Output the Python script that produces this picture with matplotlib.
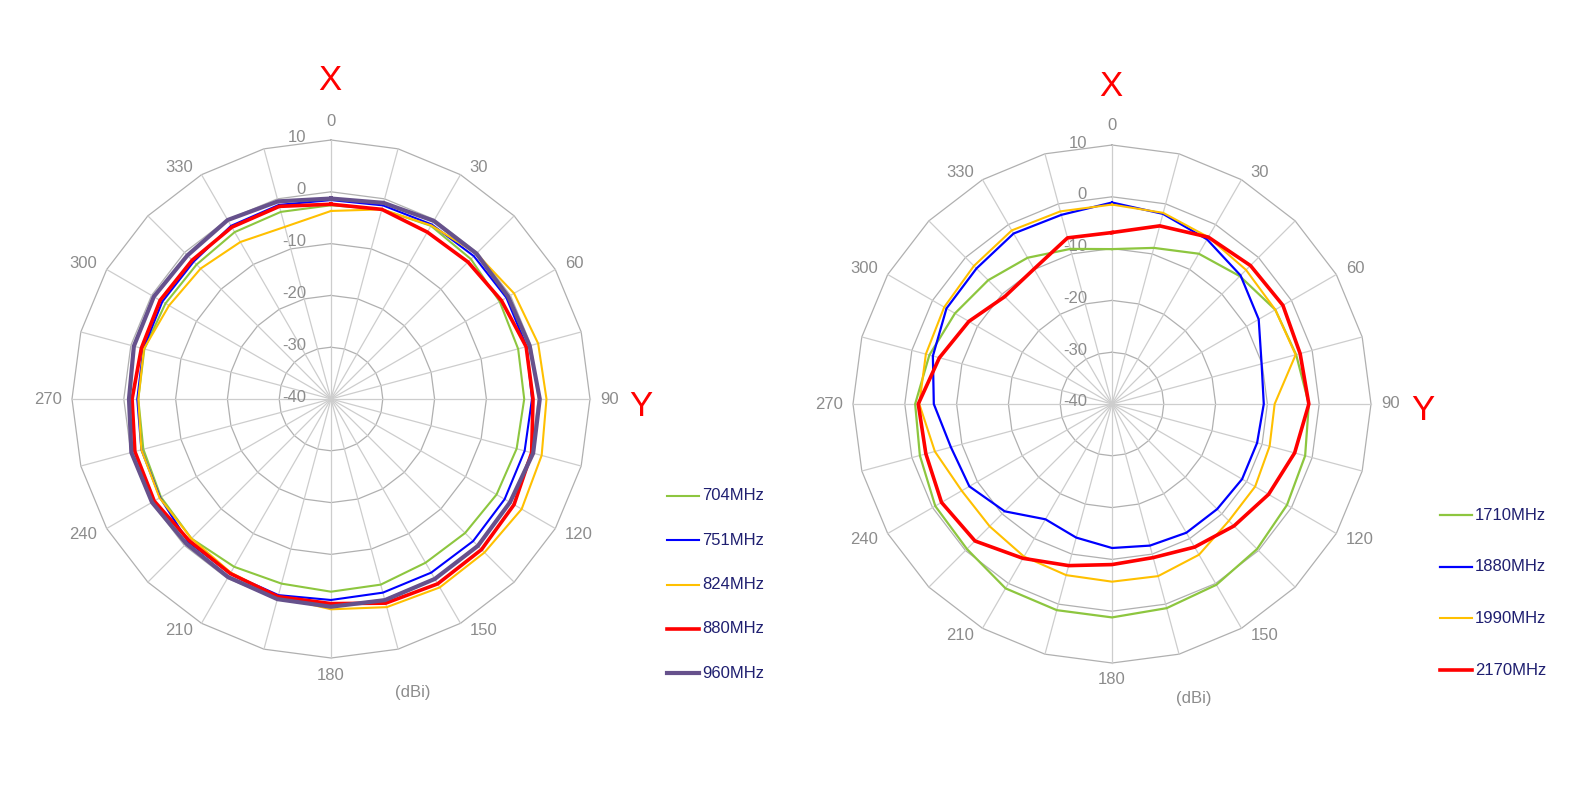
import numpy as np
import matplotlib
matplotlib.use("Agg")
import matplotlib.pyplot as plt
from matplotlib.lines import Line2D
from matplotlib.transforms import offset_copy

plt.rcParams['font.family'] = ['Liberation Sans', 'DejaVu Sans']

# angles in degrees, clockwise from X (top)
angles = np.arange(0, 360, 15)
angle_labels = np.arange(0, 360, 30)
rings = [-30, -20, -10, 0, 10]
r_min, r_max = -40, 10

# left chart: low band (dBi)
g704 = [-2.6, -2.1, -1.4, -1.8, -2.4, -2.6, -2.7, -2.9, -3.1, -3.4, -3.5, -2.9,
        -2.8, -3.1, -2.6, -1.9, -2.1, -2.5, -2.8, -2.7, -3.1, -3.3, -2.8, -2.6]
g751 = [-1.6, -1.3, -1.1, -1.0, -0.9, -0.9, -1.2, -1.3, -1.3, -1.2, -1.3, -1.3,
        -1.2, -0.8, -1.1, -1.0, -1.9, -2.1, -2.6, -2.5, -2.4, -2.5, -1.4, -1.2]
g824 = [-3.7, -2.1, -1.3, -0.3, 0.8, 1.4, 1.6, 2.1, 2.5, 1.9, 2.0, 1.6,
        0.6, -0.5, -1.3, -1.9, -1.8, -2.1, -2.8, -2.6, -3.9, -4.4, -5.0, -5.6]
g880 = [-2.4, -2.1, -2.8, -2.6, -2.0, -1.0, -1.0, 0.1, 0.8, 1.1, 1.2, 0.8,
        -0.5, -0.5, -1.1, -1.3, -0.6, -0.8, -1.6, -2.1, -1.9, -2.1, -1.7, -1.5]
g960 = [-1.3, -0.8, -0.3, -0.3, -0.5, -0.3, 0.3, 0.4, -0.1, 0.1, 0.1, 0.2,
        0.1, 0.0, -0.3, -0.5, -0.1, -0.1, -1.0, -0.6, -0.5, -0.8, -0.1, -0.5]

# right chart: high band (dBi)
g1710 = [-10.1, -8.8, -6.5, -5.1, -3.6, -3.2, -2.0, -1.4, -1.0, -0.4, 0.3, 0.8,
         1.2, 1.2, 1.1, -0.4, -0.6, -1.6, -2.0, -3.5, -5.0, -6.2, -7.4, -9.0]
g1880 = [-1.1, -2.0, -3.3, -4.9, -7.3, -10.1, -10.7, -11.0, -11.0, -11.3, -11.3, -11.7,
         -12.2, -13.3, -14.3, -10.7, -8.2, -7.8, -5.6, -4.2, -3.1, -3.0, -2.0, -2.2]
g1990 = [-1.5, -1.8, -2.8, -3.4, -3.6, -3.3, -8.6, -8.5, -8.1, -8.1, -6.4, -5.6,
         -5.7, -5.8, -6.0, -6.6, -6.5, -4.6, -2.8, -2.8, -2.6, -2.3, -1.3, -1.5]
g2170 = [-6.9, -4.4, -2.8, -2.2, -1.9, -2.4, -2.0, -3.5, -5.1, -6.7, -8.1, -9.3,
         -9.0, -7.7, -5.6, -2.6, -2.0, -2.8, -2.6, -5.5, -8.1, -10.7, -9.9, -6.8]

left_series = [("704MHz", g704, "#8DC63F", 1.5),
               ("751MHz", g751, "#0000FF", 1.5),
               ("824MHz", g824, "#FFC000", 1.5),
               ("880MHz", g880, "#FF0000", 2.6),
               ("960MHz", g960, "#66518C", 3.0)]
right_series = [("1710MHz", g1710, "#8DC63F", 1.6),
                ("1880MHz", g1880, "#0000FF", 1.6),
                ("1990MHz", g1990, "#FFC000", 1.5),
                ("2170MHz", g2170, "#FF0000", 2.6)]

W, H = 1582, 798
fig = plt.figure(figsize=(W / 100, H / 100), dpi=100)
fig.patch.set_facecolor("white")

gray = "#8C8C8C"


def closed(vals):
    return np.append(vals, vals[0])


def radar(cx, cy, R, series, leg_x, leg_y, leg_dy, x_pos, y_pos, dbi_pos):
    ax = fig.add_axes([(cx - R) / W, (H - cy - R) / H, 2 * R / W, 2 * R / H],
                      projection="polar")
    ax.set_theta_zero_location("N")
    ax.set_theta_direction(-1)
    ax.set_ylim(r_min, r_max)
    ax.axis("off")

    th = np.deg2rad(closed(angles))
    # polygon grid
    for rv in rings:
        ax.plot(th, [rv] * len(th), color="#B0B0B0", lw=0.9, zorder=1, clip_on=False)
    for a in np.deg2rad(angles):
        ax.plot([a, a], [r_min, r_max], color="#CDCDCD", lw=0.9, zorder=1, clip_on=False)

    # radial labels left of the 0 spoke
    tr = offset_copy(ax.transData, fig=fig, x=-25, y=2, units="dots")
    for rv in [r_min] + rings:
        ax.text(0, rv, str(rv), transform=tr, ha="right", va="center",
                fontsize=12, color=gray, zorder=2)
    # angle labels: box corner sits just outside the outer ring
    for a in angle_labels:
        s = str(a)
        ra = np.deg2rad(a)
        sn, cs = np.sin(ra), np.cos(ra)
        if abs(sn) > 0.1:
            ox = 2 * sn + np.sign(sn) * (len(s) * 4.6 + 8)
            oy = 2 * cs + (np.sign(cs) * 5 if abs(cs) > 0.1 else 0)
        else:
            ox = 0
            oy = np.sign(cs) * (19 if cs > 0 else 17)
        tr_a = offset_copy(ax.transData, fig=fig, x=ox, y=oy, units="dots")
        ax.text(ra, r_max, s, transform=tr_a, ha="center", va="center",
                fontsize=12, color=gray)

    for name, vals, col, lw in series:
        ax.plot(th, closed(vals), color=col, lw=lw, zorder=3, clip_on=False)

    # legend
    for i, (name, vals, col, lw) in enumerate(series):
        y = 1 - (leg_y + i * leg_dy) / H
        fig.add_artist(Line2D([leg_x / W, (leg_x + 32) / W], [y, y], color=col, lw=lw))
        fig.text((leg_x + 35) / W, y, name, ha="left", va="center",
                 fontsize=12, color="#1F1F70")

    fig.text(x_pos[0] / W, 1 - x_pos[1] / H, "X", ha="center", va="center",
             fontsize=25, color="#FF0000")
    fig.text(y_pos[0] / W, 1 - y_pos[1] / H, "Y", ha="center", va="center",
             fontsize=25, color="#FF0000")
    fig.text(dbi_pos[0] / W, 1 - dbi_pos[1] / H, "(dBi)", ha="center", va="center",
             fontsize=12, color=gray)


radar(331, 399, 259, left_series, 667, 496, 44.3, (330, 80), (641, 406), (413, 693))
radar(1112, 404, 259, right_series, 1440, 515, 51.7, (1111, 86), (1423, 410), (1194, 698))

fig.savefig("out.png", dpi=100, facecolor="white")
